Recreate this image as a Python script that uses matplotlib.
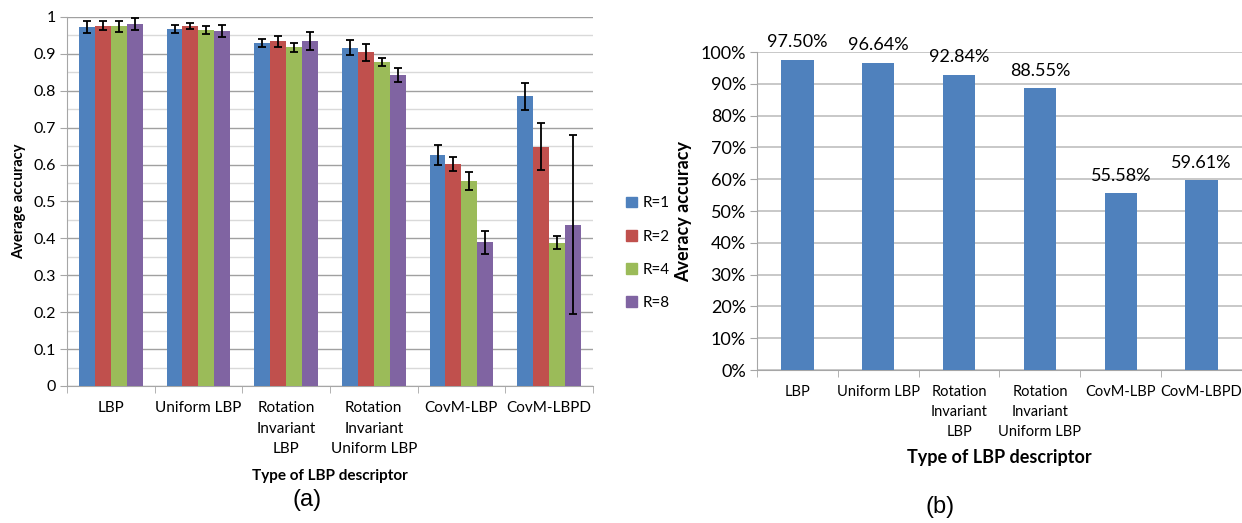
import numpy as np
import matplotlib.pyplot as plt
from matplotlib.patches import Patch
from matplotlib.ticker import MultipleLocator, FixedLocator, PercentFormatter

plt.rcParams['font.family'] = ['Lato', 'DejaVu Sans']

# data, panel (a)
categorias = ["LBP", "Uniform LBP", "Rotation\nInvariant\nLBP",
              "Rotation\nInvariant\nUniform LBP", "CovM-LBP", "CovM-LBPD"]
series = ["R=1", "R=2", "R=4", "R=8"]
r1 = [0.972, 0.967, 0.929, 0.917, 0.627, 0.785]
r2 = [0.976, 0.976, 0.934, 0.904, 0.602, 0.649]
r4 = [0.975, 0.965, 0.918, 0.879, 0.555, 0.388]
r8 = [0.981, 0.962, 0.934, 0.843, 0.390, 0.437]
e1 = [0.016, 0.010, 0.011, 0.020, 0.027, 0.036]
e2 = [0.012, 0.009, 0.014, 0.022, 0.019, 0.064]
e4 = [0.015, 0.010, 0.012, 0.011, 0.024, 0.018]
e8 = [0.016, 0.016, 0.024, 0.018, 0.031, 0.243]

# data, panel (b)
media = [97.50, 96.64, 92.84, 88.55, 55.58, 59.61]

colores = ['#4F81BD', '#C0504D', '#9BBB59', '#8064A2']
gris = '#A6A6A6'

fig = plt.figure(figsize=(12.42, 5.23), dpi=100)

# ---- (a) ----
ax = fig.add_axes([0.0539, 0.262, 0.4235, 0.7055])
x = np.arange(len(categorias))
w = 0.182
for i, (vals, errs) in enumerate(zip([r1, r2, r4, r8], [e1, e2, e4, e8])):
    ax.bar(x + (i - 1.5) * w, vals, w, color=colores[i], yerr=errs,
           error_kw=dict(ecolor='black', elinewidth=1.3, capsize=3, capthick=1.3),
           zorder=3)
ax.set_xlim(-0.5, len(categorias) - 0.5)
ax.set_ylim(0, 1)
ax.yaxis.set_minor_locator(MultipleLocator(0.05))
ax.set_yticks(np.arange(0, 1.01, 0.1))
ax.set_yticklabels(['0'] + ['%.1f' % v for v in np.arange(0.1, 0.95, 0.1)] + ['1'])
ax.grid(axis='y', which='major', color='#A0A0A0', lw=1, zorder=0)
ax.grid(axis='y', which='minor', color='#D9D9D9', lw=1, zorder=0)
ax.tick_params(axis='y', which='minor', length=0)
ax.tick_params(axis='y', which='major', length=5, color=gris, labelsize=11.5, pad=3)
ax.set_xticks(x)
ax.set_xticklabels(categorias, fontsize=11, linespacing=1.6)
ax.xaxis.set_minor_locator(FixedLocator(np.arange(-0.5, len(categorias), 1)))
ax.tick_params(axis='x', which='major', length=0, pad=11)
ax.tick_params(axis='x', which='minor', length=5, color=gris)
for s in ['top', 'right']:
    ax.spines[s].set_visible(False)
for s in ['left', 'bottom']:
    ax.spines[s].set_color(gris)
ax.set_ylabel("Average accuracy", fontsize=10.5, fontweight='bold', labelpad=5)
ax.set_xlabel("Type of LBP descriptor", fontsize=11, fontweight='bold', labelpad=9)

handles = [Patch(color=c, label=s) for c, s in zip(colores, series)]
fig.legend(handles=handles, loc='center left', bbox_to_anchor=(0.493, 0.516),
           frameon=False, fontsize=11, handlelength=0.7, handleheight=0.7,
           handletextpad=0.4, labelspacing=1.25)

# ---- (b) ----
bx = fig.add_axes([0.6095, 0.2925, 0.3905, 0.608])
bx.bar(x, media, 0.4, color=colores[0], zorder=3)
for xi, v in zip(x, media):
    bx.text(xi, v + 3, '%.2f%%' % v, ha='center', va='bottom', fontsize=13)
bx.set_xlim(-0.5, len(categorias) - 0.5)
bx.set_ylim(0, 100)
bx.yaxis.set_major_locator(MultipleLocator(10))
bx.yaxis.set_major_formatter(PercentFormatter(decimals=0))
bx.grid(axis='y', color='#BFBFBF', lw=1.2, zorder=0)
bx.tick_params(axis='y', length=5, color=gris, labelsize=13, pad=3)
bx.set_xticks(x)
bx.set_xticklabels(categorias, fontsize=10.5, linespacing=1.55)
bx.xaxis.set_minor_locator(FixedLocator(np.arange(-0.5, len(categorias), 1)))
bx.tick_params(axis='x', which='major', length=0, pad=11)
bx.tick_params(axis='x', which='minor', length=5, color=gris)
for s in ['top', 'right']:
    bx.spines[s].set_visible(False)
for s in ['left', 'bottom']:
    bx.spines[s].set_color(gris)
bx.set_ylabel("Averacy accuracy", fontsize=13, fontweight='bold', labelpad=6)
bx.set_xlabel("Type of LBP descriptor", fontsize=13, fontweight='bold', labelpad=7)

fig.text(307 / 1242, 1 - 500 / 523, "(a)", fontsize=17, ha='center', va='center',
         family=['Liberation Sans', 'DejaVu Sans'])
fig.text(940 / 1242, 1 - 507 / 523, "(b)", fontsize=17, ha='center', va='center',
         family=['Liberation Sans', 'DejaVu Sans'])

fig.savefig('out.png', dpi=100)
